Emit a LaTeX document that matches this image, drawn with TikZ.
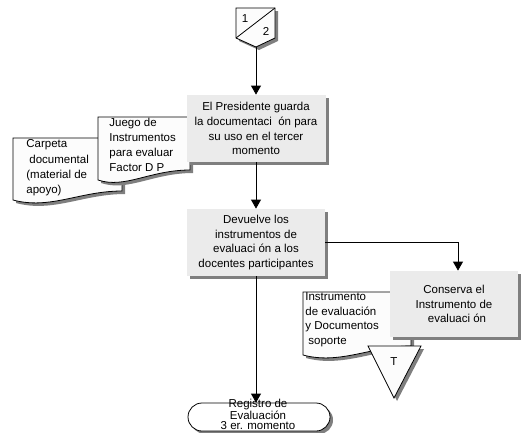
\documentclass[tikz,border=0pt]{standalone}
\usepackage{fontspec}
\setmainfont{Liberation Sans}
\usetikzlibrary{arrows.meta,shadows}

\definecolor{boxgray}{HTML}{EBEBEB}
\definecolor{shadowgray}{HTML}{7F7F7F}
\definecolor{docfill}{HTML}{FCFCFC}

\begin{document}
\begin{tikzpicture}[x=1pt,y=-1pt,
  line width=0.8pt,
  font=\fontsize{11.5}{14.8}\selectfont,
  shade3/.style={drop shadow={shadow xshift=3pt,shadow yshift=-3pt,fill=shadowgray,opacity=1}},
  procbox/.style={fill=boxgray,shade3,inner sep=0pt,align=center},
  docshape/.style={draw,fill=docfill,shade3},
  doctext/.style={inner sep=0pt,anchor=north west,align=left},
  flow/.style={-{Triangle[width=10pt,length=9pt]}}
]
\useasboundingbox (0,0) rectangle (521,432);

% off-page connector 1/2
\draw[fill=docfill,shade3] (236,8) -- (275,8) -- (275,38) -- (256,47) -- (236,38) -- cycle;
\draw (275,8) -- (236,38);
\node[inner sep=0pt] (pg1) at (245,19) {1};
\node[inner sep=0pt] (pg2) at (266,31) {2};
\coordinate (offpage) at (256,47);

% supporting documents on the left
\draw[docshape] (13,138) -- (122,138) -- (122,191)
  .. controls (80,191) and (50,210) .. (13,200) -- cycle;
\node[doctext,font=\fontsize{11.5}{15.3}\selectfont] (carpeta) at (26,139.5)
  {Carpeta\\\hspace*{3pt}documental\\(material de\\apoyo)};
\draw[docshape] (98,117) -- (190,117) -- (190,170)
  .. controls (150,170) and (125,189) .. (98,180) -- cycle;
\node[doctext,font=\fontsize{11.5}{15}\selectfont] (juego) at (109,117.5)
  {Juego de\\Instrumentos\\para evaluar\\Factor D P};

% process boxes
\node[procbox,minimum width=139pt,minimum height=67pt] (p1) at (256,128.5)
  {El Presidente guarda\\la documentaci\ \ ón para\\su uso en el tercer\\momento};
\node[procbox,minimum width=138pt,minimum height=67pt] (p2) at (256,242.5)
  {Devuelve los\\instrumentos de\\evaluaci\ ón a los\\docentes participantes};

% evaluation document and archive triangle
\draw[docshape] (303,292) -- (411,292) -- (411,346)
  .. controls (372,346) and (340,365) .. (303,355) -- cycle;
\node[doctext,font=\fontsize{11.5}{14.5}\selectfont] (instr) at (305,292.5)
  {Instrumento\\de evaluación\\y Documentos\\\hspace*{3pt}soporte};
\draw[fill=docfill,shade3] (368,346) -- (421,346) -- (394,398) -- cycle;
\node[inner sep=0pt] (archT) at (394,362) {T};

\node[procbox,minimum width=128pt,minimum height=66pt] (p3) at (454,304)
  {Conserva el\\Instrumento de\\\hspace*{6pt}evaluaci\ ón};

% terminator and its label
\node[draw,fill=white,shade3,rounded corners=14pt,minimum width=142pt,
  minimum height=28pt,inner sep=0pt] (term) at (259,417) {};
\node[inner sep=0pt,align=center,font=\fontsize{11.5}{10}\selectfont]
  (termtext) at (258,414.5) {Registro de\\Evaluación\\3 er. momento};

% connectors
\draw[flow] (offpage) -- (offpage |- p1.north);
\draw[flow] (p1) -- (p2);
\draw[flow] (p2.east) -| ([xshift=4pt]p3.north);
\draw[flow] (p2.south) -- (p2.south |- term.north);
\end{tikzpicture}
\end{document}
